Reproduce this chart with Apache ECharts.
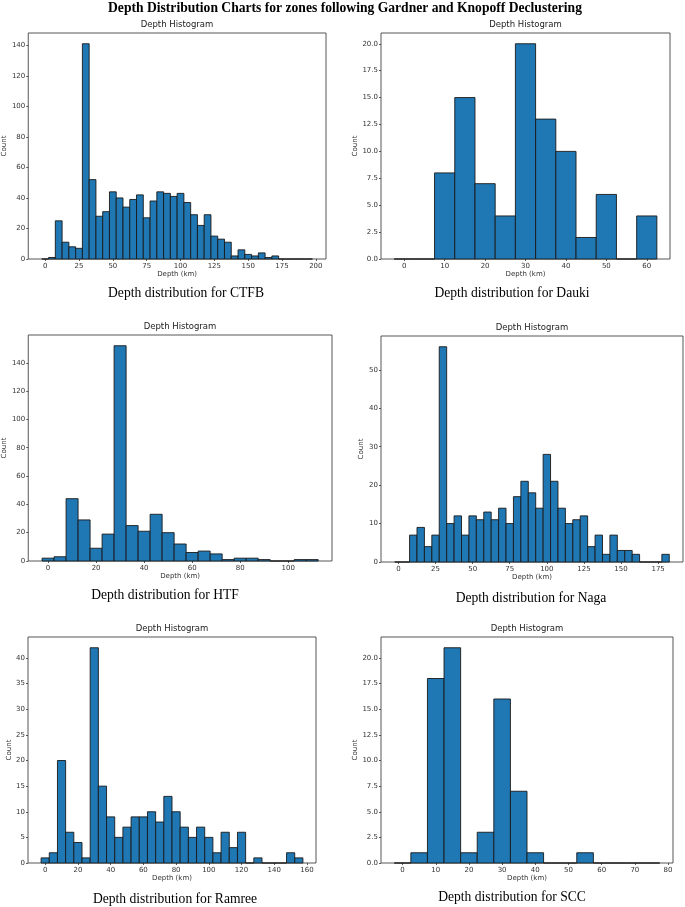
<!DOCTYPE html>
<html>
<head>
<meta charset="utf-8">
<script src="https://cdn.jsdelivr.net/npm/echarts@6/dist/echarts.min.js"></script>
<style>
html,body{margin:0;padding:0;background:#fff;}
#chart{width:685px;height:907px;}
</style>
</head>
<body>
<div id="chart"></div>
<script>
// ---- Data ----
const BIN_WIDTH = 5;
const zoneNames = ['CTFB', 'Dauki', 'HTF', 'Naga', 'Ramree', 'SCC'];

const ctfbCenters = [0,5,10,15,20,25,30,35,40,45,50,55,60,65,70,75,80,85,90,95,100,105,110,115,120,125,130,135,140,145,150,155,160,165,170,175,180,185,190,195];
const ctfbCounts  = [0,1,25,11,8,7,141,52,28,31,44,40,34,39,42,27,38,44,43,41,43,37,29,22,29,15,13,11,2,6,3,2,4,1,2,0,0,0,0,0];

const daukiCenters = [0,5,10,15,20,25,30,35,40,45,50,55,60];
const daukiCounts  = [0,0,8,15,7,4,20,13,10,2,6,0,4];

const htfCenters = [0,5,10,15,20,25,30,35,40,45,50,55,60,65,70,75,80,85,90,95,100,105,110];
const htfCounts  = [2,3,44,29,9,19,152,25,21,33,20,12,6,7,5,1,2,2,1,0,0,1,1];

const nagaCenters = [0,5,10,15,20,25,30,35,40,45,50,55,60,65,70,75,80,85,90,95,100,105,110,115,120,125,130,135,140,145,150,155,160,165,170,175,180];
const nagaCounts  = [0,0,7,9,4,7,56,10,12,7,12,11,13,11,14,10,17,21,18,14,28,21,14,10,11,12,4,7,2,7,3,3,2,0,0,0,2];

const ramreeCenters = [0,5,10,15,20,25,30,35,40,45,50,55,60,65,70,75,80,85,90,95,100,105,110,115,120,125,130,135,140,145,150,155];
const ramreeCounts  = [1,2,20,6,4,1,42,15,9,5,7,9,9,10,8,13,10,7,5,7,5,2,6,3,6,0,1,0,0,0,2,1];

const sccCenters = [0,5,10,15,20,25,30,35,40,45,50,55,60,65,70,75];
const sccCounts  = [0,1,18,21,1,3,16,7,1,0,0,1,0,0,0,0];

// tick labels
const ctfbXTicks = [0,25,50,75,100,125,150,175,200];
const ctfbYTicks = [0,20,40,60,80,100,120,140];
const daukiXTicks = [0,10,20,30,40,50,60];
const daukiYTicks = [0,2.5,5,7.5,10,12.5,15,17.5,20];
const htfXTicks = [0,20,40,60,80,100];
const htfYTicks = [0,20,40,60,80,100,120,140];
const nagaXTicks = [0,25,50,75,100,125,150,175];
const nagaYTicks = [0,10,20,30,40,50];
const ramreeXTicks = [0,20,40,60,80,100,120,140,160];
const ramreeYTicks = [0,5,10,15,20,25,30,35,40];
const sccXTicks = [0,10,20,30,40,50,60,70,80];
const sccYTicks = [0,2.5,5,7.5,10,12.5,15,17.5,20];

// ---- Layout (kept separate from data) ----
const layouts = [
  {left:28,  top:33,  width:298, height:226, xmin:-12.5, xmax:207.5, ymax:148.05, yGap:20, cap:[186,293], dec:false},
  {left:381, top:33,  width:289, height:226, xmin:-5.75, xmax:65.75, ymax:21.0,   yGap:22, cap:[512,293], dec:true},
  {left:28,  top:335, width:304, height:226, xmin:-8.25, xmax:118.25, ymax:159.6, yGap:20, cap:[165,595], dec:false},
  {left:381, top:336, width:302, height:226, xmin:-11.75, xmax:191.75, ymax:58.8, yGap:16, cap:[531,598], dec:false},
  {left:28,  top:637, width:288, height:226, xmin:-10.5, xmax:165.5, ymax:44.1,   yGap:15, cap:[175,899], dec:false},
  {left:381, top:637, width:292, height:226, xmin:-6.5, xmax:81.5,  ymax:22.05,   yGap:22, cap:[512,897], dec:true}
];

const zones = [
  {c: ctfbCenters,  v: ctfbCounts,  xt: ctfbXTicks,  yt: ctfbYTicks},
  {c: daukiCenters, v: daukiCounts, xt: daukiXTicks, yt: daukiYTicks},
  {c: htfCenters,   v: htfCounts,   xt: htfXTicks,   yt: htfYTicks},
  {c: nagaCenters,  v: nagaCounts,  xt: nagaXTicks,  yt: nagaYTicks},
  {c: ramreeCenters,v: ramreeCounts,xt: ramreeXTicks,yt: ramreeYTicks},
  {c: sccCenters,   v: sccCounts,   xt: sccXTicks,   yt: sccYTicks}
];

const tickFont = 'DejaVu Sans';
const grids = [], xAxes = [], yAxes = [], series = [], graphics = [];

graphics.push({
  type:'text', x:345, y:8,
  style:{text:'Depth Distribution Charts for zones following Gardner and Knopoff Declustering',
    font:'bold 13.6px "Liberation Serif", "Times New Roman", serif', fill:'#000',
    textAlign:'center', textVerticalAlign:'middle'}
});

zones.forEach(function(z, i){
  const L = layouts[i];
  grids.push({left:L.left, top:L.top, width:L.width, height:L.height, show:true,
    borderColor:'#444', borderWidth:0.9, backgroundColor:'transparent', containLabel:false});
  xAxes.push({
    type:'value', gridIndex:i, min:L.xmin, max:L.xmax, position:'bottom',
    name:'Depth (km)', nameLocation:'middle', nameGap:12,
    nameTextStyle:{fontFamily:tickFont, fontSize:7, color:'#333'},
    axisLine:{show:false, onZero:false},
    splitLine:{show:false},
    axisTick:{show:true, length:2, lineStyle:{color:'#333', width:0.8}, customValues:z.xt},
    axisLabel:{show:true, fontFamily:tickFont, fontSize:7, color:'#333', margin:4, customValues:z.xt,
      formatter:function(v){return String(v);}}
  });
  yAxes.push({
    type:'value', gridIndex:i, min:0, max:L.ymax, position:'left',
    name:'Count', nameLocation:'middle', nameGap:L.yGap, nameRotate:90,
    nameTextStyle:{fontFamily:tickFont, fontSize:7, color:'#333'},
    axisLine:{show:false, onZero:false},
    splitLine:{show:false},
    axisTick:{show:true, length:2, lineStyle:{color:'#333', width:0.8}, customValues:z.yt},
    axisLabel:{show:true, fontFamily:tickFont, fontSize:7, color:'#333', margin:3, customValues:z.yt,
      formatter:(function(dec){return function(v){return dec ? v.toFixed(1) : String(Math.round(v));};})(L.dec)}
  });
  series.push({
    type:'custom', xAxisIndex:i, yAxisIndex:i,
    data: z.c.map(function(c, k){return [c, z.v[k]];}),
    encode:{x:0, y:1},
    renderItem:function(params, api){
      const x = api.value(0), y = api.value(1);
      const p0 = api.coord([x - BIN_WIDTH/2, y]);
      const p1 = api.coord([x + BIN_WIDTH/2, 0]);
      return {type:'rect',
        shape:{x:p0[0], y:p0[1], width:p1[0]-p0[0], height:p1[1]-p0[1]},
        style:{fill:'#1f77b4', stroke:'#1a1a1a', lineWidth:0.9}};
    }
  });
  graphics.push({
    type:'text', x:L.left + L.width/2, y:L.top - 8,
    style:{text:'Depth Histogram', font:'8.5px "DejaVu Sans", sans-serif', fill:'#222',
      textAlign:'center', textVerticalAlign:'middle'}
  });
  graphics.push({
    type:'text', x:L.cap[0], y:L.cap[1],
    style:{text:'Depth distribution for ' + zoneNames[i], font:'13.6px "Liberation Serif", "Times New Roman", serif', fill:'#000',
      textAlign:'center', textVerticalAlign:'middle'}
  });
});

const chart = echarts.init(document.getElementById('chart'), null, {renderer:'canvas', width:685, height:907});
chart.setOption({
  animation:false,
  backgroundColor:'#fff',
  grid:grids, xAxis:xAxes, yAxis:yAxes, series:series, graphic:graphics
});
</script>
</body>
</html>
